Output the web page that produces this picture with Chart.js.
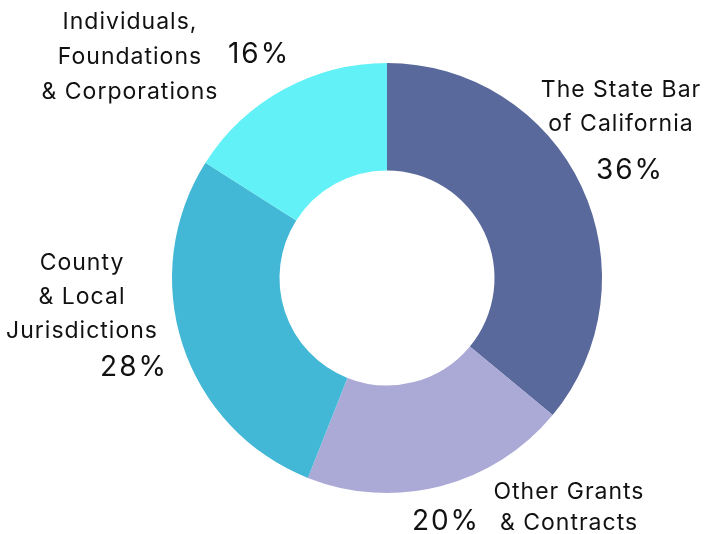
<!DOCTYPE html>
<html>
<head>
<meta charset="utf-8">
<script src="https://cdn.jsdelivr.net/npm/chart.js@4.4.0/dist/chart.umd.min.js"></script>
<style>
  html, body { margin: 0; padding: 0; background: #fff; }
  #wrap { width: 706px; height: 534px; }
</style>
</head>
<body>
<div id="wrap"><canvas id="fundingChart"></canvas></div>
<script>
// ======================================
// Data
// ======================================

const categories = [
  ["The State Bar", "of California"],
  ["Other Grants", "& Contracts"],
  ["County", "& Local", "Jurisdictions"],
  ["Individuals,", "Foundations", "& Corporations"],
];
const shares = [36, 20, 28, 16];
const sliceColors = ["#5a699b", "#aba9d6", "#43b8d6", "#62f1f6"];

// label placement relative to the doughnut centre (text, not marks)
const labelSpots = [
  { name: [234, -188], pct: [243, -107], lineGap: 34 },
  { name: [182, 214], pct: [59, 244], lineGap: 31 },
  { name: [-305, -15], pct: [-253, 90], lineGap: 34 },
  { name: [-257, -256], pct: [-128, -223], lineGap: 35 },
];

// ======================================
// Outside labels
// ======================================

const outsideLabels = {
  id: "outsideLabels",
  afterDraw(chart) {
    const { ctx } = chart;
    const arc = chart.getDatasetMeta(0).data[0];
    const cx = arc.x;
    const cy = arc.y;

    ctx.save();
    ctx.fillStyle = "#111";
    ctx.textAlign = "center";
    ctx.textBaseline = "middle";

    categories.forEach((lines, i) => {
      const spot = labelSpots[i];
      ctx.font = "23px Inter, 'Noto Sans', sans-serif";
      ctx.letterSpacing = "1px";
      lines.forEach((line, j) => {
        ctx.fillText(line, cx + spot.name[0], cy + spot.name[1] + j * spot.lineGap);
      });
      ctx.font = "28px Inter, 'Noto Sans', sans-serif";
      ctx.letterSpacing = "2px";
      ctx.fillText(shares[i] + "%", cx + spot.pct[0], cy + spot.pct[1]);
    });
    ctx.restore();
  },
};

// ======================================
// Chart
// ======================================

new Chart(document.getElementById("fundingChart"), {
  type: "doughnut",
  data: {
    labels: categories.map((c) => c.join(" ")),
    datasets: [
      {
        data: shares,
        backgroundColor: sliceColors,
        borderWidth: 0,
        hoverOffset: 0,
      },
    ],
  },
  options: {
    responsive: true,
    maintainAspectRatio: false,
    animation: false,
    cutout: "50%",
    layout: { padding: { left: 172, top: 63, right: 104, bottom: 41 } },
    plugins: {
      legend: { display: false },
      tooltip: { enabled: false },
    },
  },
  plugins: [outsideLabels],
});
</script>
</body>
</html>
